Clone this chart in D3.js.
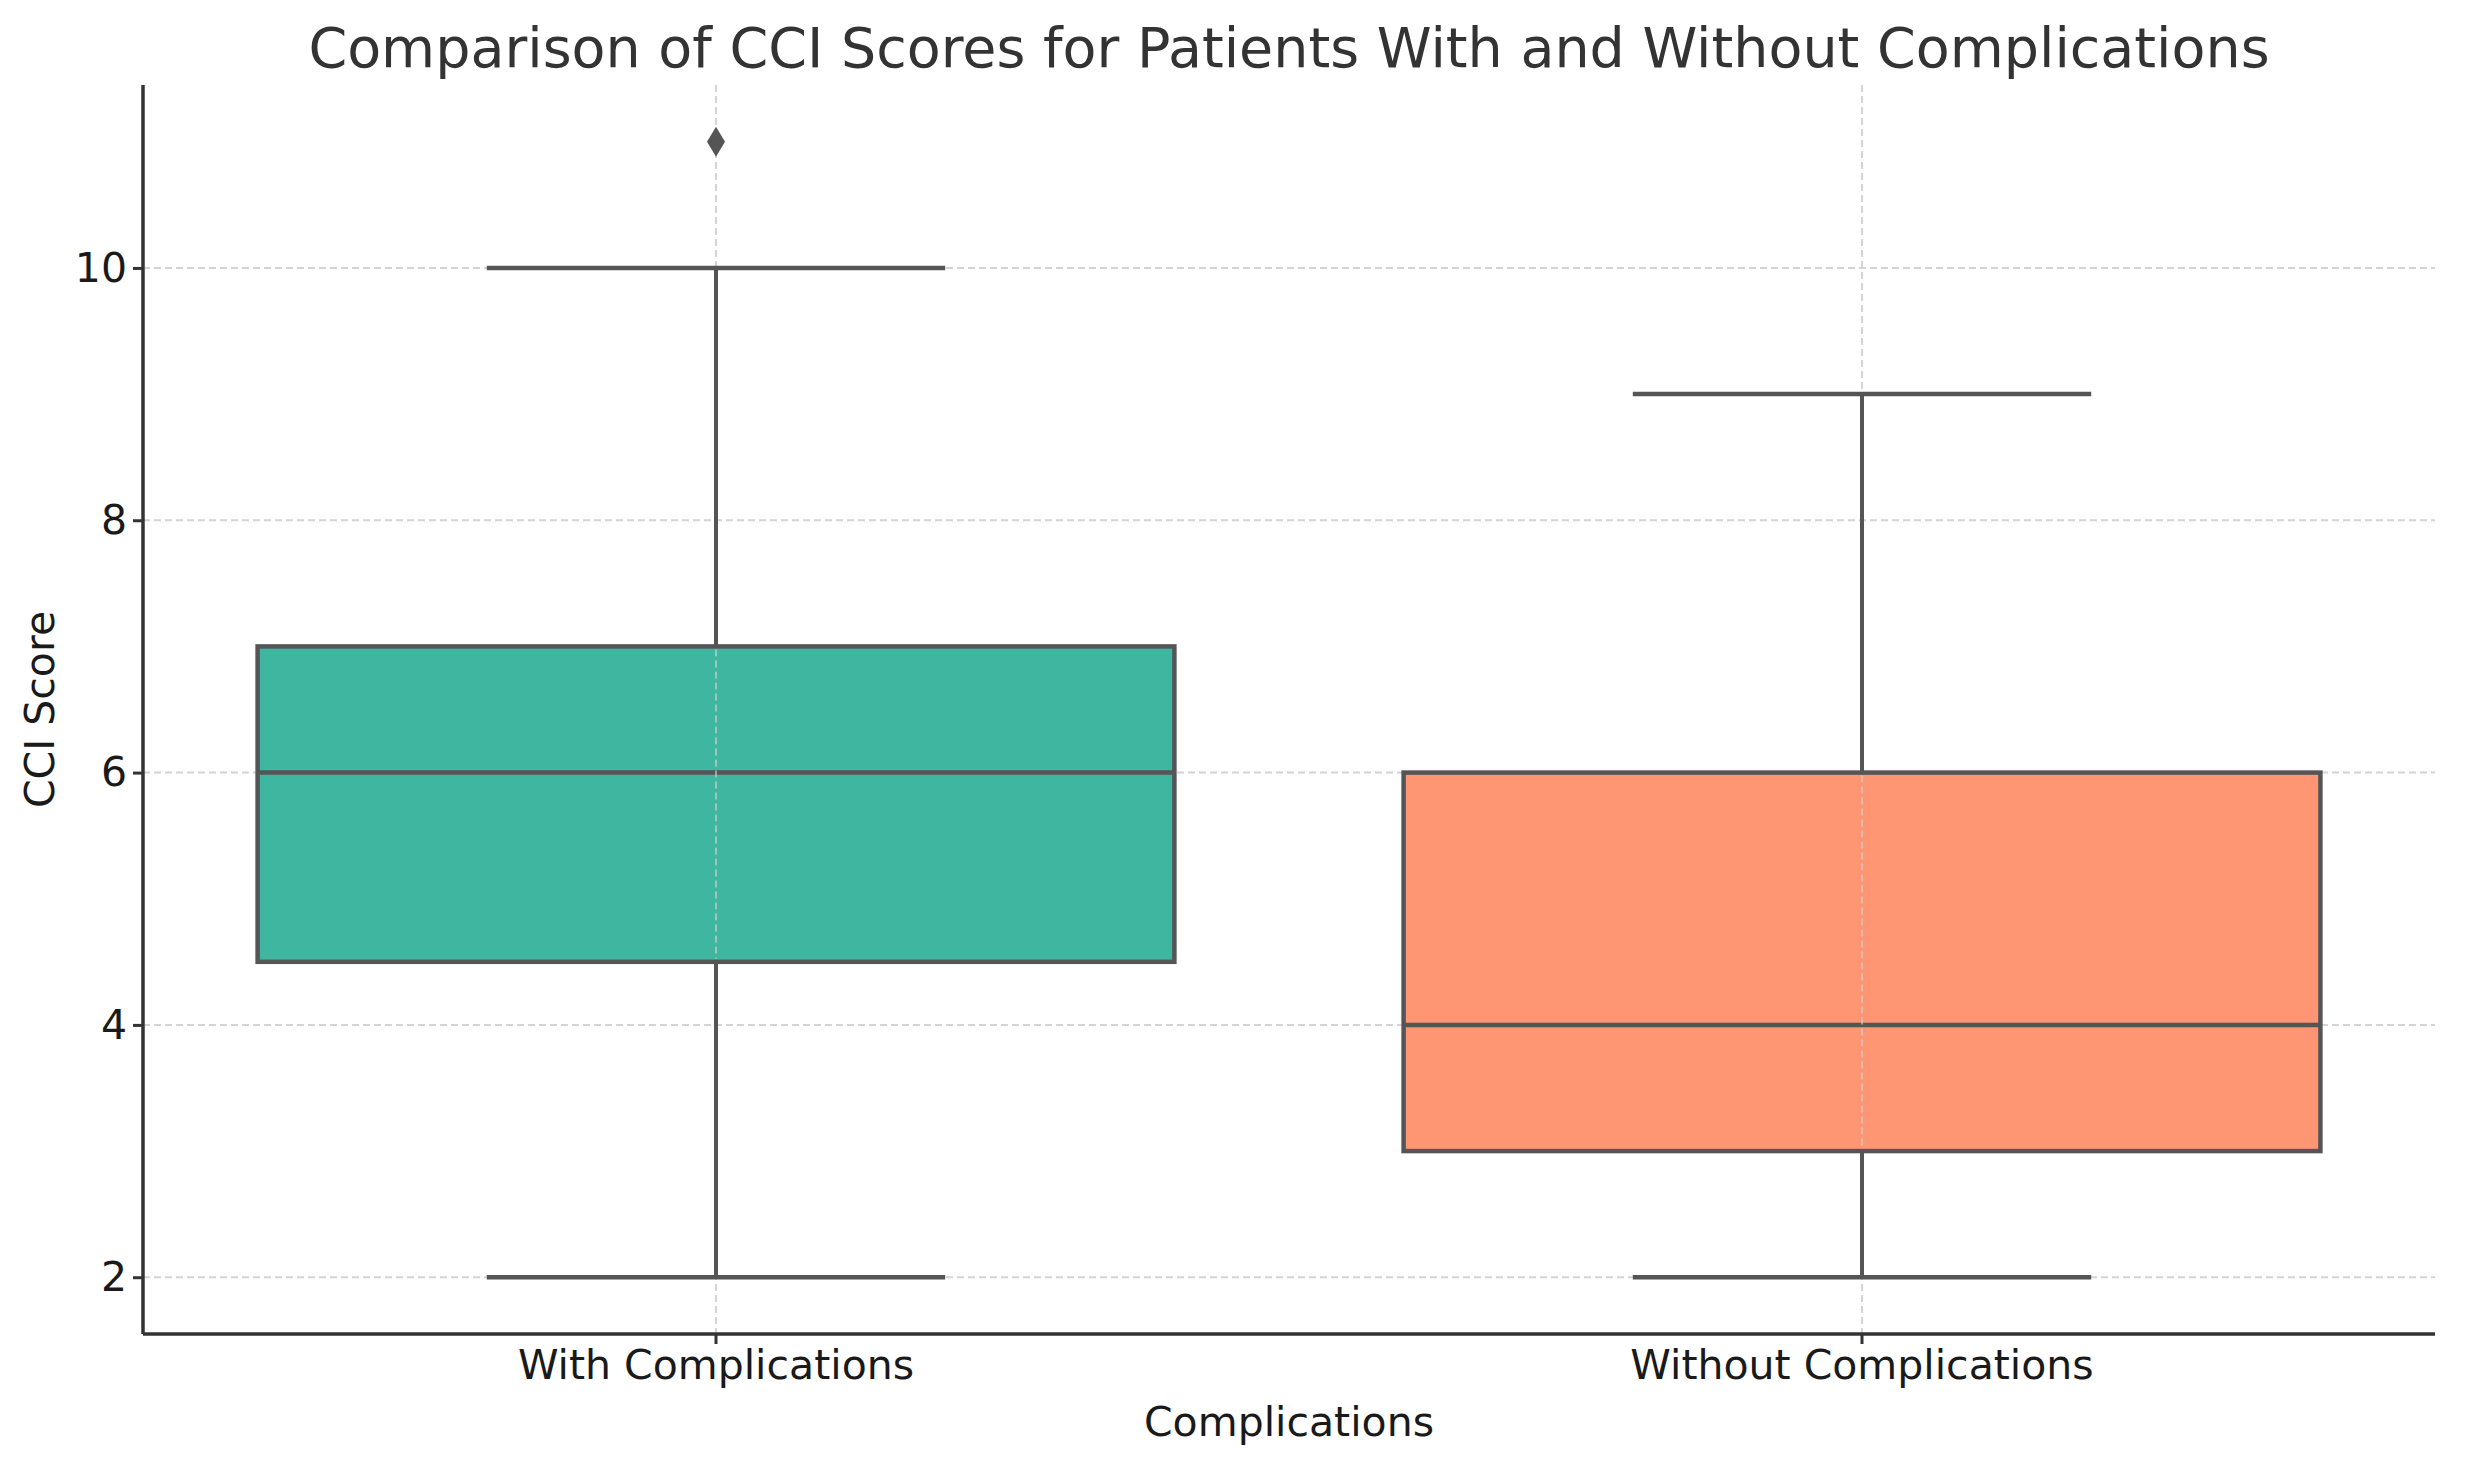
<!DOCTYPE html>
<html><head><meta charset="utf-8">
<script src="https://cdn.jsdelivr.net/npm/d3@7"></script>
<style>html,body{margin:0;padding:0;background:#fff;}</style>
</head><body>
<svg id="chart" width="2466" height="1462"></svg>
<script>
const categories = ["With Complications", "Without Complications"];
const whiskerLow = [2, 2];
const q1 = [4.5, 3];
const median = [6, 4];
const q3 = [7, 6];
const whiskerHigh = [10, 9];
const outliers = [[11], []];
const colors = ["#3fb6a0", "#fe9673"];
const yTicks = [2, 4, 6, 8, 10];

const W = 2466, H = 1462;
const m = {left: 143, right: W - 2435, top: 85, bottom: H - 1334};
const svg = d3.select("#chart");
const font = "DejaVu Sans, sans-serif";

const x = d3.scaleBand().domain(categories).range([m.left, W - m.right]).paddingInner(0).paddingOuter(0);
const y = d3.scaleLinear().domain([1.55, 11.45]).range([H - m.bottom, m.top]);

const g = svg.append("g");
// grid
g.selectAll(".hg").data(yTicks).enter().append("line")
  .attr("x1", m.left).attr("x2", W - m.right)
  .attr("y1", d => y(d)).attr("y2", d => y(d))
  .attr("stroke", "#d4d4d4").attr("stroke-width", 2).attr("stroke-dasharray", "7,4");
g.selectAll(".vg").data(categories).enter().append("line")
  .attr("x1", d => x(d) + x.bandwidth()/2).attr("x2", d => x(d) + x.bandwidth()/2)
  .attr("y1", m.top).attr("y2", H - m.bottom)
  .attr("stroke", "#d4d4d4").attr("stroke-width", 2).attr("stroke-dasharray", "7,4");

const lineCol = "#555555";
const bw = x.bandwidth() * 0.8;
categories.forEach((c, i) => {
  const cx = x(c) + x.bandwidth()/2;
  g.append("line").attr("x1", cx).attr("x2", cx).attr("y1", y(q3[i])).attr("y2", y(whiskerHigh[i]))
    .attr("stroke", lineCol).attr("stroke-width", 4);
  g.append("line").attr("x1", cx).attr("x2", cx).attr("y1", y(q1[i])).attr("y2", y(whiskerLow[i]))
    .attr("stroke", lineCol).attr("stroke-width", 4);
  [whiskerHigh[i], whiskerLow[i]].forEach(v => {
    g.append("line").attr("x1", cx - bw/4).attr("x2", cx + bw/4).attr("y1", y(v)).attr("y2", y(v))
      .attr("stroke", lineCol).attr("stroke-width", 4.5);
  });
  g.append("rect").attr("x", cx - bw/2).attr("width", bw)
    .attr("y", y(q3[i])).attr("height", y(q1[i]) - y(q3[i]))
    .attr("fill", colors[i]).attr("stroke", lineCol).attr("stroke-width", 4.5);
  g.append("line").attr("x1", cx - bw/2).attr("x2", cx + bw/2).attr("y1", y(median[i])).attr("y2", y(median[i]))
    .attr("stroke", lineCol).attr("stroke-width", 4.5);
  outliers[i].forEach(v => {
    g.append("path").attr("d", `M${cx},${y(v)-15} L${cx+9},${y(v)} L${cx},${y(v)+15} L${cx-9},${y(v)} Z`)
      .attr("fill", lineCol);
  });
  g.append("line").attr("x1", cx).attr("x2", cx).attr("y1", y(q3[i]) + 3).attr("y2", y(q1[i]) - 3)
    .attr("stroke", "#d4d4d4").attr("stroke-opacity", 0.6).attr("stroke-width", 2).attr("stroke-dasharray", "7,4");
});
categories.forEach((c, i) => {
  const x0 = x(c) + x.bandwidth()/2 - bw/2 + 3, x1 = x(c) + x.bandwidth()/2 + bw/2 - 3;
  yTicks.filter(t => t > q1[i] && t < q3[i] && t !== median[i]).forEach(t => {
    g.append("line").attr("x1", x0).attr("x2", x1).attr("y1", y(t)).attr("y2", y(t))
      .attr("stroke", "#d4d4d4").attr("stroke-opacity", 0.6).attr("stroke-width", 2).attr("stroke-dasharray", "7,4");
  });
});

// axes
const yAxis = svg.append("g").attr("transform", `translate(${m.left},0)`)
  .call(d3.axisLeft(y).tickValues(yTicks).tickSize(10).tickPadding(6).tickFormat(d3.format("d")));
const xAxis = svg.append("g").attr("transform", `translate(0,${H - m.bottom})`)
  .call(d3.axisBottom(x).tickSize(10).tickPadding(6));
[yAxis, xAxis].forEach(a => {
  a.select(".domain").attr("stroke", "#333").attr("stroke-width", 3.5);
  a.selectAll(".tick line").attr("stroke", "#333").attr("stroke-width", 3);
  a.selectAll(".tick text").attr("font-family", font).attr("font-size", 41).attr("fill", "#1a1a1a");
});
yAxis.select(".domain").attr("d", `M0,${H - m.bottom}V${m.top}`);
xAxis.select(".domain").attr("d", `M${m.left},0H${W - m.right}`);

svg.append("text").attr("x", (m.left + W - m.right)/2).attr("y", 1436)
  .attr("text-anchor", "middle").attr("font-family", font).attr("font-size", 41).attr("fill", "#1a1a1a")
  .text("Complications");
svg.append("text").attr("transform", `translate(54,${(m.top + H - m.bottom)/2}) rotate(-90)`)
  .attr("text-anchor", "middle").attr("font-family", font).attr("font-size", 41).attr("fill", "#1a1a1a")
  .text("CCI Score");
svg.append("text").attr("x", (m.left + W - m.right)/2).attr("y", 67)
  .attr("text-anchor", "middle").attr("font-family", font).attr("font-size", 55.5).attr("fill", "#333")
  .text("Comparison of CCI Scores for Patients With and Without Complications");
</script>
</body></html>
